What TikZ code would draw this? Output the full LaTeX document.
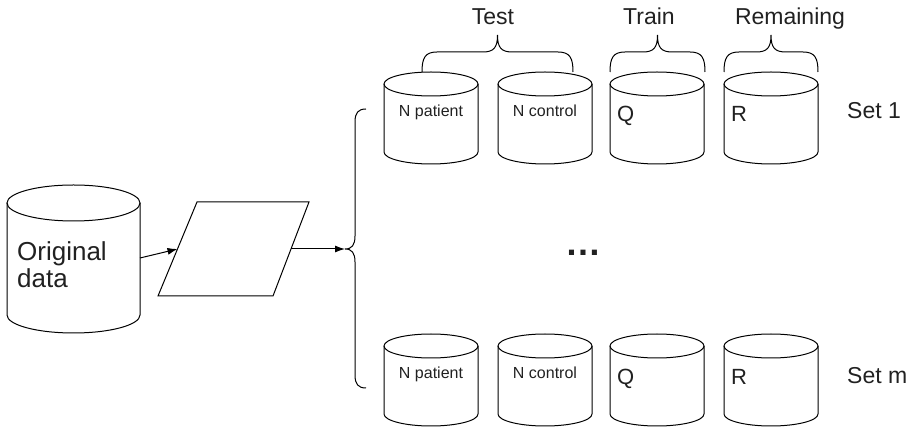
\documentclass[tikz,border=0pt]{standalone}
\usepackage{fontspec}
\setmainfont{Liberation Sans}
\usetikzlibrary{arrows.meta,calc}

\tikzset{
  outline/.style={line width=1pt, draw=black},
  conn/.style={line width=1pt, -{Latex[length=10pt,width=7pt]}},
  lbl/.style={inner sep=0pt, text=black!87, anchor=base},
  head/.style={lbl, font=\fontsize{23}{26}\selectfont},
  small/.style={lbl, font=\fontsize{16}{18}\selectfont},
  letter/.style={lbl, anchor=base west, font=\fontsize{22}{24}\selectfont},
}

% database drum: name, centre x, top y
\newcommand{\tank}[3]{%
  \coordinate (#1) at (#2,#3);
  \draw[outline] (#2,#3+12) ellipse [x radius=47, y radius=12];
  \draw[outline] (#2-47,#3+12) -- (#2-47,#3+80)
    arc [start angle=180, end angle=0, x radius=47, y radius=12]
    -- (#2+47,#3+12);
}

% curly brace opening downwards: left x, right x
\newcommand{\capbrace}[2]{%
  \draw[outline] (#1,72) .. controls (#1,58) and (#1+3,52) .. (#1+15,52)
    -- ({(#1+#2)/2-15},52) .. controls ({(#1+#2)/2-4},52) and ({(#1+#2)/2},48) .. ({(#1+#2)/2},35)
    .. controls ({(#1+#2)/2},48) and ({(#1+#2)/2+4},52) .. ({(#1+#2)/2+15},52)
    -- (#2-15,52) .. controls (#2-3,52) and (#2,58) .. (#2,72);
}

\begin{document}
\begin{tikzpicture}[x=1pt, y=-1pt]
\useasboundingbox (0,0) rectangle (914,427);

% source database
\draw[outline] (73.5,203) ellipse [x radius=66.5, y radius=18];
\draw[outline] (7,203) -- (7,315)
  arc [start angle=180, end angle=0, x radius=66.5, y radius=18] -- (140,203);
\node[lbl, anchor=base west, align=left, font=\fontsize{26}{27}\selectfont]
  (orig) at (17,288) {Original\\data};
\coordinate (origout) at (140,258);

% split step (parallelogram)
\coordinate (ptl) at (197,202);
\coordinate (ptr) at (309,202);
\coordinate (pbr) at (273,296);
\coordinate (pbl) at (158,296);
\draw[outline, line join=miter] (ptl) -- (ptr) -- (pbr) -- (pbl) -- cycle;
\coordinate (splitin) at ($(pbl)!0.5!(ptl)$);
\coordinate (splitout) at ($(pbr)!0.5!(ptr)$);

% fork into the sets
\coordinate (fork) at (345,249);
\draw[outline] (366,109) .. controls (358,109) and (355,113) .. (355,122)
  -- (355,236) .. controls (355,245) and (352,249) .. (fork)
  .. controls (352,249) and (355,253) .. (355,262)
  -- (355,375) .. controls (355,384) and (358,388) .. (366,388);

\draw[conn] (origout) -- (splitin);
\draw[conn] (splitout) -- (fork);

% set 1
\tank{sa1}{431}{72}
\tank{sb1}{545}{72}
\tank{sc1}{657}{72}
\tank{sd1}{771}{72}
\node[small] (pat1) at (431,117) {N patient};
\node[small] (con1) at (545,117) {N control};
\node[letter] (q1) at (617,122) {Q};
\node[letter] (r1) at (731,122) {R};
\node[head, anchor=base west] (set1) at (847,119) {Set 1};

% set m
\tank{sam}{431}{334}
\tank{sbm}{545}{334}
\tank{scm}{657}{334}
\tank{sdm}{771}{334}
\node[small] (patm) at (431,379) {N patient};
\node[small] (conm) at (545,379) {N control};
\node[letter] (qm) at (617,385) {Q};
\node[letter] (rm) at (731,385) {R};
\node[head, anchor=base west] (setm) at (847,384) {Set m};

% group braces and headings
\capbrace{422}{573}
\capbrace{610}{705}
\capbrace{724}{818}
\node[head] (test) at (493,25) {Test};
\node[head] (train) at (649,25) {Train};
\node[head] (rest) at (790,25) {Remaining};

% elided sets
\node[lbl, anchor=center, font=\bfseries\fontsize{36}{36}\selectfont] (gap) at (583,253) {…};
\end{tikzpicture}
\end{document}
